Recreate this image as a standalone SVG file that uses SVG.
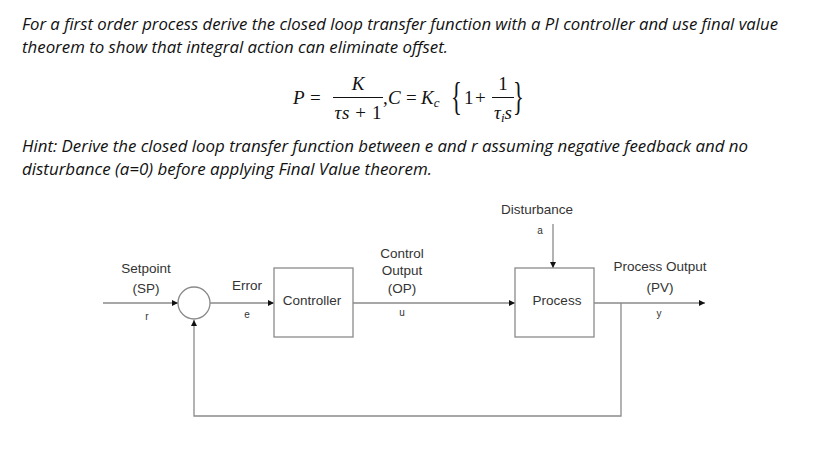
<svg xmlns="http://www.w3.org/2000/svg" width="813" height="459" viewBox="0 0 813 459">
<style>
.q{font-family:"Open Sans","Liberation Sans",sans-serif;font-style:italic;font-size:15.5px;fill:#111}
.m{font-family:"Liberation Serif","DejaVu Serif",serif;font-style:italic;font-size:19px;fill:#111}
.mu{font-family:"Liberation Serif","DejaVu Serif",serif;font-size:19px;fill:#111}
.br{font-family:"Liberation Serif","DejaVu Serif",serif;font-size:41px;fill:#111}
.l{font-family:"Liberation Sans",Arial,sans-serif;font-size:13.5px;fill:#333;text-anchor:middle}
.s{font-family:"Liberation Sans",Arial,sans-serif;font-size:10px;fill:#333;text-anchor:middle}
.ln{stroke:#8a8a8a;stroke-width:1.3;fill:none}
.bx{stroke:#8a8a8a;stroke-width:1.3;fill:#fff}
</style>
<defs>
<marker id="ah" viewBox="0 0 10 10" refX="10" refY="5" markerWidth="6" markerHeight="6" markerUnits="userSpaceOnUse" orient="auto">
<path d="M0,0 L10,5 L0,10 z" fill="#111"/>
</marker>
</defs>
<rect width="813" height="459" fill="#fff"/>
<g id="question">
<text class="q" x="22" y="30" textLength="756" lengthAdjust="spacingAndGlyphs">For a first order process derive the closed loop transfer function with a PI controller and use final value</text>
<text class="q" x="22" y="53" textLength="426" lengthAdjust="spacingAndGlyphs">theorem to show that integral action can eliminate offset.</text>
</g>
<g id="formula">
<text class="m" x="293" y="104">P</text>
<text class="mu" x="310" y="104">=</text>
<text class="m" x="358" y="90" text-anchor="middle">K</text>
<line x1="333" y1="97.5" x2="383" y2="97.5" stroke="#111" stroke-width="1"/>
<text class="m" x="358" y="119" text-anchor="middle" textLength="47">τs <tspan font-style="normal">+ 1</tspan></text>
<text class="mu" x="383" y="104">,</text>
<text class="m" x="388" y="104">C</text>
<text class="mu" x="406" y="104">=</text>
<text class="m" x="421" y="104">K<tspan font-size="13" dy="3">c</tspan></text>
<text class="br" transform="translate(451,110) scale(0.55,1)">{</text>
<text class="mu" x="464" y="104">1</text>
<text class="mu" x="475" y="104">+</text>
<text class="mu" x="503" y="90" text-anchor="middle">1</text>
<line x1="492" y1="97.5" x2="514" y2="97.5" stroke="#111" stroke-width="1"/>
<text class="m" x="503" y="119" text-anchor="middle">τ<tspan font-size="13" dy="3">i</tspan><tspan dy="-3">s</tspan></text>
<text class="br" transform="translate(513,110) scale(0.55,1)">}</text>
</g>
<g id="hint">
<text class="q" x="22" y="152" textLength="726" lengthAdjust="spacingAndGlyphs">Hint: Derive the closed loop transfer function between e and r assuming negative feedback and no</text>
<text class="q" x="22" y="175" textLength="410" lengthAdjust="spacingAndGlyphs">disturbance (a=0) before applying Final Value theorem.</text>
</g>
<g id="connectors">
<line class="ln" x1="103" y1="303" x2="178" y2="303" marker-end="url(#ah)"/>
<line class="ln" x1="210" y1="303" x2="274" y2="303" marker-end="url(#ah)"/>
<line class="ln" x1="353" y1="303" x2="515" y2="303" marker-end="url(#ah)"/>
<line class="ln" x1="594" y1="303" x2="705" y2="303" marker-end="url(#ah)"/>
<line class="ln" x1="553" y1="224" x2="553" y2="268" marker-end="url(#ah)"/>
<polyline class="ln" points="621,303 621,416 194,416 194,320" marker-end="url(#ah)"/>
</g>
<g id="sum">
<circle class="bx" cx="194" cy="303" r="16"/>
</g>
<g id="controller">
<rect class="bx" x="274" y="268" width="79" height="69"/>
<text class="l" x="312" y="305">Controller</text>
</g>
<g id="process">
<rect class="bx" x="515" y="268" width="79" height="69"/>
<text class="l" x="557" y="305">Process</text>
</g>
<g id="labels">
<text class="l" x="146" y="273">Setpoint</text>
<text class="l" x="146" y="293">(SP)</text>
<text class="s" x="147" y="320">r</text>
<text class="l" x="247" y="290">Error</text>
<text class="s" x="247" y="318">e</text>
<text class="l" x="402" y="258">Control</text>
<text class="l" x="402" y="275">Output</text>
<text class="l" x="402" y="293">(OP)</text>
<text class="s" x="402" y="316">u</text>
<text class="l" x="537" y="214">Disturbance</text>
<text class="s" x="540" y="234">a</text>
<text class="l" x="660" y="271">Process Output</text>
<text class="l" x="660" y="292">(PV)</text>
<text class="s" x="659" y="317">y</text>
</g>
</svg>
